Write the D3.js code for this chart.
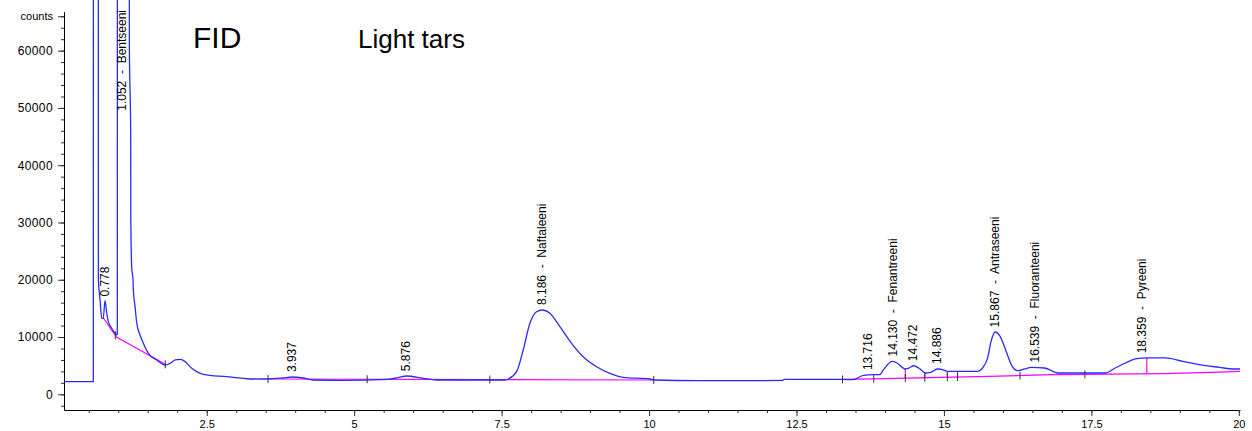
<!DOCTYPE html>
<html>
<head>
<title>FID - Light tars</title>
<style>
  body, html { margin: 0; padding: 0; background: #fff; }
  #svg { display: block; font-family: "Liberation Sans", Arial, sans-serif; }
  .peak { white-space: pre; }
</style>
</head>
<body>
<svg id="svg" width="1252" height="431"></svg>
<script src="https://d3js.org/d3.v7.min.js"></script>
<script>
// signal trace [time (min), counts]
const trace = [
  [0.08, 2200], [0.577, 2200], [0.579, 120000], [0.661, 120000], [0.663, 19900],
  [0.692, 16460], [0.720, 13270], [0.745, 13300], [0.776, 16340], [0.805, 14140],
  [0.832, 12680], [0.890, 11520], [0.946, 10650], [0.975, 10400], [0.984, 10500],
  [0.986, 120000], [1.186, 120000], [1.188, 61000], [1.211, 45400], [1.213, 30100],
  [1.229, 22000], [1.251, 19960], [1.256, 18210], [1.285, 15300], [1.314, 12400],
  [1.369, 10350], [1.425, 8900], [1.510, 7160], [1.653, 5990], [1.797, 5120],
  [1.881, 5410], [1.966, 5990], [2.051, 6110], [2.136, 5690], [2.246, 4540],
  [2.331, 3950], [2.442, 3490], [2.839, 3070], [3.178, 2720], [3.403, 2670],
  [3.539, 2670], [3.793, 2850], [3.946, 3020], [4.132, 2850], [4.301, 2500],
  [4.793, 2440], [5.578, 2620], [5.740, 2900], [5.890, 3200], [6.171, 2790],
  [6.398, 2500], [7.556, 2500], [7.612, 2670], [7.754, 3950], [7.866, 7730],
  [7.980, 12400], [8.093, 14420], [8.188, 14720], [8.319, 14140], [8.488, 11800],
  [8.686, 8900], [8.883, 6560], [9.110, 4820], [9.336, 3670], [9.561, 2970],
  [10.014, 2670], [10.081, 2500], [10.86, 2380], [12.27, 2420], [12.29, 2600],
  [13.28, 2600], [13.46, 2550], [13.634, 3300], [13.805, 3420], [13.907, 3420],
  [13.976, 4300], [14.119, 5760], [14.203, 5470], [14.346, 4420], [14.403, 4590],
  [14.488, 4990], [14.573, 4590], [14.688, 3720], [14.773, 3820], [14.886, 4420],
  [15.0, 4240], [15.058, 4000], [15.569, 4000], [15.656, 4590], [15.741, 6360],
  [15.80, 9290], [15.87, 10880], [15.95, 10160], [16.054, 7530], [16.141, 5190],
  [16.254, 4120], [16.368, 4420], [16.481, 4710], [16.708, 4590], [16.937, 3720],
  [17.734, 3720], [17.905, 4590], [18.076, 5470], [18.247, 6180], [18.446, 6360],
  [18.759, 6360], [19.044, 5760], [19.329, 5190], [19.671, 4710], [19.898, 4420],
  [20.18, 4420]
]

// integration baselines
const baselineEarly = [[0.747, 13320], [0.97, 10000], [1.797, 5240]]
const baselineMid = [[3.54, 2670], [10.08, 2500]]
const baselineLate = [
  [13.28, 2600], [13.81, 2700], [14.37, 2830], [15.75, 3120],
  [16.83, 3420], [18.76, 3600], [19.67, 3890], [20.02, 4000]
]
const baselineMarks = [0.95, 1.797, 3.54, 5.22, 7.30, 10.08, 13.28, 13.81, 14.345, 14.675, 15.058, 15.23, 16.29, 17.39]
const dropLines = [14.345, 14.675, 15.058, 15.23, 18.44]

// peak annotations
const peakTimes = [0.778, 1.052, 3.937, 5.876, 8.186, 13.716, 14.130, 14.472, 14.886, 15.867, 16.539, 18.359]
const peakNames = ['', 'Bentseeni', '', '', 'Naftaleeni', '', 'Fenantreeni', '', '', 'Antraseeni', 'Fluoranteeni', 'Pyreeni']

// axes
const xTicks = [2.5, 5, 7.5, 10, 12.5, 15, 17.5, 20]
const xMinor = d3.range(0.5, 20.01, 0.5)
const yTicks = [0, 10000, 20000, 30000, 40000, 50000, 60000]
const yMinor = d3.range(-2000, 66001, 2000)
const yUnitTick = 66000
const yUnit = 'counts'

const svg = d3.select('#svg')
const x = d3.scaleLinear().domain([0.08, 20.02]).range([64, 1240])
const y = d3.scaleLinear().domain([-2740, 66800]).range([410, 11.7])

const bis = d3.bisector(d => d[0]).left
function valueAt(arr, t) {
  const i = bis(arr, t)
  if (i <= 0) return arr[0][1]
  if (i >= arr.length) return arr[arr.length - 1][1]
  const a = arr[i - 1], b = arr[i]
  return a[1] + (b[1] - a[1]) * (t - a[0]) / (b[0] - a[0])
}
function baselineAt(t) {
  for (const seg of [baselineEarly, baselineMid, baselineLate]) {
    if (t >= seg[0][0] - 0.01 && t <= seg[seg.length - 1][0] + 0.01) return valueAt(seg, t)
  }
  return valueAt(trace, t)
}

svg.append('defs').append('clipPath').attr('id', 'plot')
  .append('rect').attr('x', 64).attr('y', -5).attr('width', 1176).attr('height', 415)

// x axis
const gx = svg.append('g').attr('transform', 'translate(0,410)')
gx.call(d3.axisBottom(x).tickValues(xMinor).tickSize(3).tickFormat('').tickSizeOuter(0))
gx.append('g').call(d3.axisBottom(x).tickValues(xTicks).tickSize(6).tickSizeOuter(0).tickPadding(4).tickFormat(d3.format('~g')))
  .call(g => g.select('.domain').remove())
gx.selectAll('text').attr('font-family', null).attr('font-size', 11).attr('fill', '#000')

// y axis
const gy = svg.append('g').attr('transform', 'translate(64,0)')
gy.call(d3.axisLeft(y).tickValues(yMinor).tickSize(3).tickFormat('').tickSizeOuter(0))
gy.append('g').call(d3.axisLeft(y).tickValues(yTicks.concat([yUnitTick])).tickSize(6).tickSizeOuter(0).tickPadding(5)
    .tickFormat(d => d === yUnitTick ? yUnit : d))
  .call(g => g.select('.domain').remove())
gy.selectAll('text').attr('font-family', null).attr('fill', '#000')
  .attr('font-size', d => d === yUnitTick ? 11 : 12).attr('letter-spacing', d => d === yUnitTick ? 0 : 0.4)
svg.selectAll('.domain').attr('stroke', '#000')
svg.selectAll('.tick line').attr('stroke', '#333')

const plot = svg.append('g').attr('clip-path', 'url(#plot)')
const line = d3.line().x(d => x(d[0])).y(d => y(d[1]))
const smooth = d3.line().x(d => x(d[0])).y(d => y(d[1])).curve(d3.curveMonotoneX)

// baselines
for (const seg of [baselineEarly, baselineMid, baselineLate]) {
  plot.append('path').datum(seg).attr('d', line)
    .attr('fill', 'none').attr('stroke', '#ff00ff').attr('stroke-width', 1.2)
}
plot.selectAll('.drop').data(dropLines).join('line')
  .attr('x1', d => x(d)).attr('x2', d => x(d))
  .attr('y1', d => y(baselineAt(d))).attr('y2', d => y(valueAt(trace, d)))
  .attr('stroke', '#ff00ff').attr('stroke-width', 1.2)

// trace
plot.append('path').datum(trace).attr('d', smooth)
  .attr('fill', 'none').attr('stroke', '#2a2aff').attr('stroke-width', 1.3)

// baseline start/end marks
plot.selectAll('.mark').data(baselineMarks).join('line')
  .attr('x1', d => x(d)).attr('x2', d => x(d))
  .attr('y1', d => y(baselineAt(d)) - 4).attr('y2', d => y(baselineAt(d)) + 4)
  .attr('stroke', '#333').attr('stroke-width', 1)

// peak labels
svg.selectAll('.peak').data(peakTimes).join('text')
  .attr('class', 'peak')
  .attr('font-size', 12)
  .attr('dy', '0.35em')
  .attr('fill', '#000')
  .text((d, i) => d3.format('.3f')(d) + (peakNames[i] ? '  -  ' + peakNames[i] : ''))
  .attr('transform', function (d) {
    const len = this.getComputedTextLength()
    const ya = Math.max(y(valueAt(trace, d)) - 5, 10 + len)
    return `translate(${x(d)},${ya}) rotate(-90)`
  })

// titles
svg.append('text').attr('x', 193).attr('y', 48).attr('font-size', 30).text('FID')
svg.append('text').attr('x', 358).attr('y', 48).attr('font-size', 26).text('Light tars')
</script>
</body>
</html>
